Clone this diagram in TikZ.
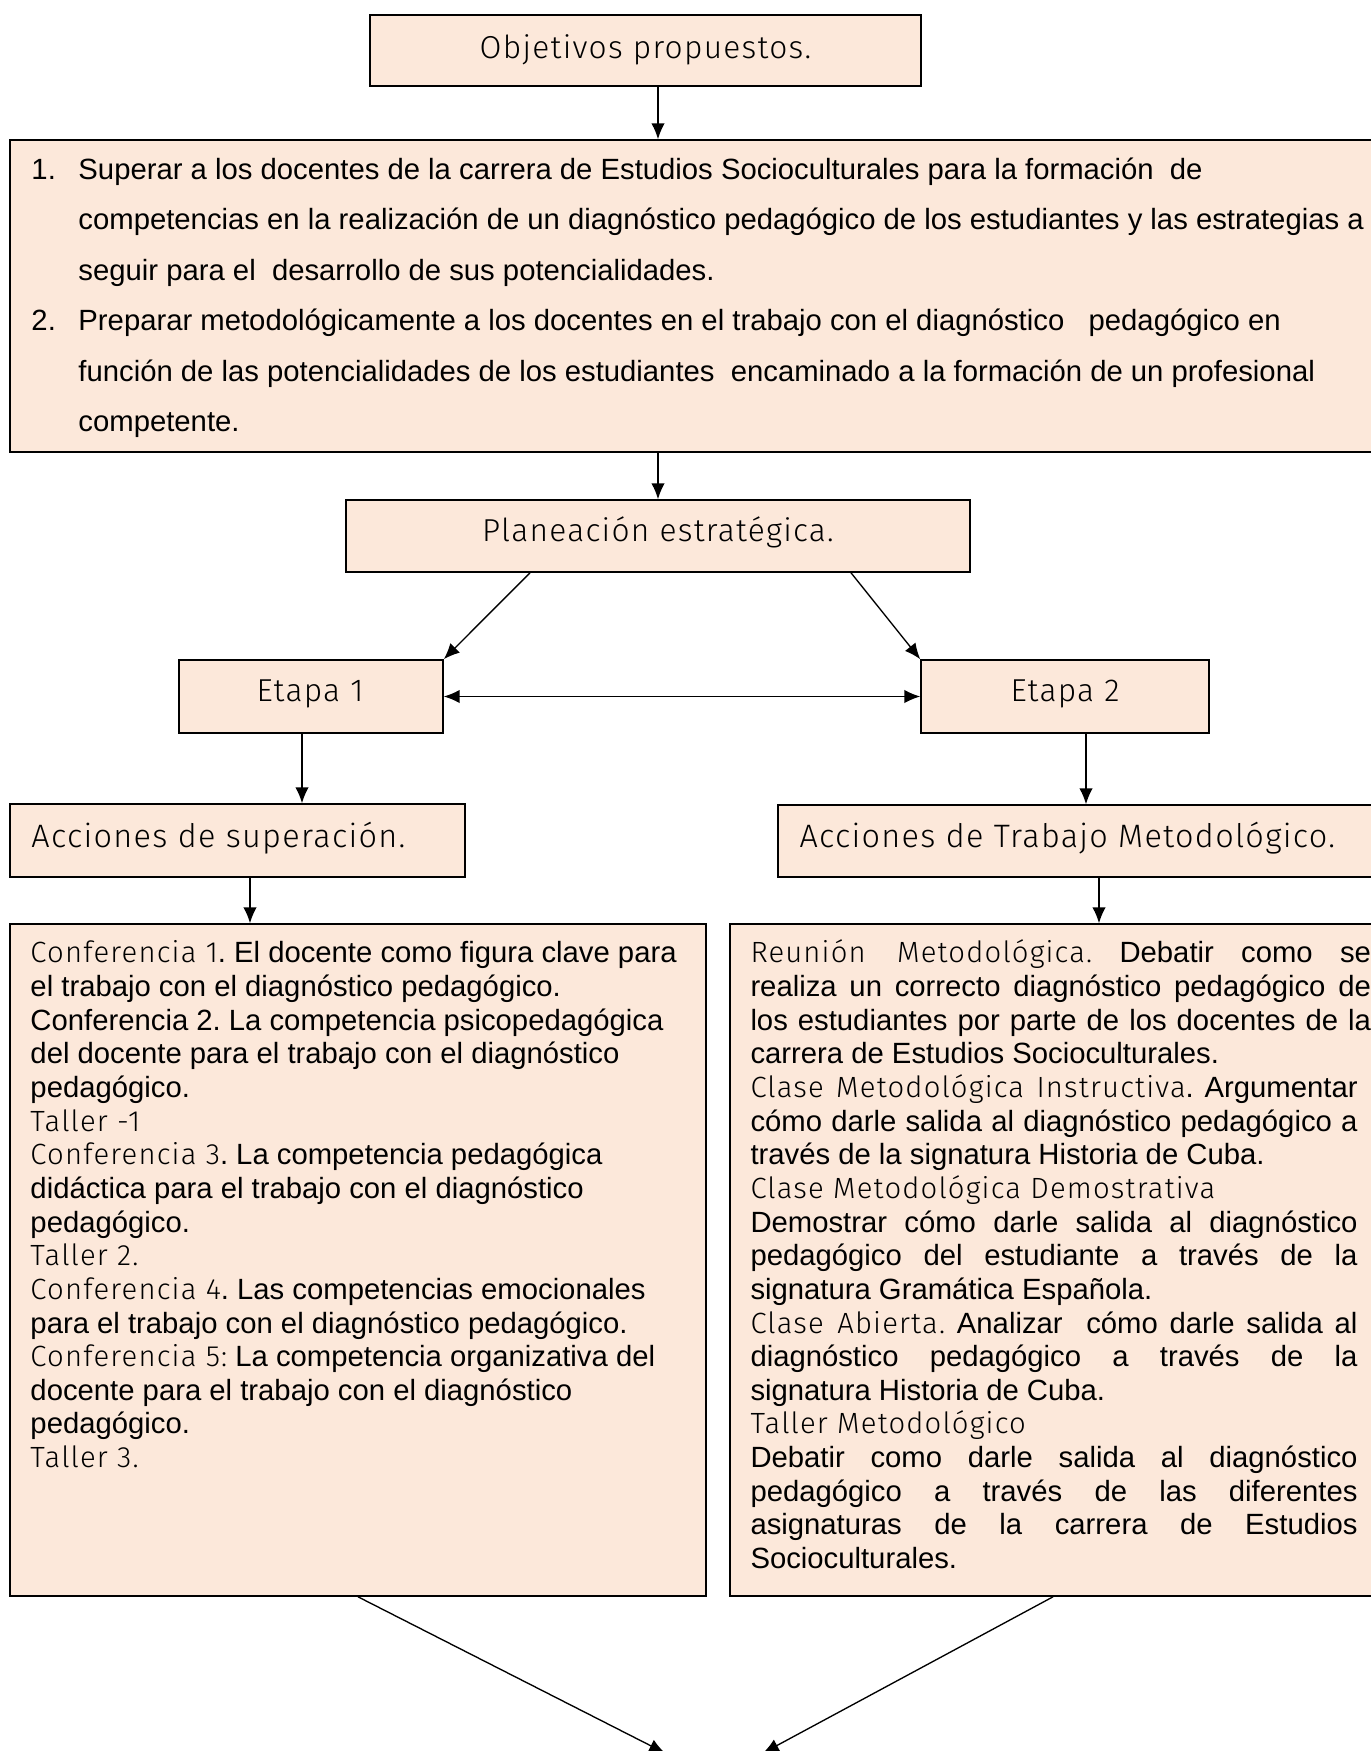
\documentclass[tikz,border=0pt]{standalone}
\usepackage{fontspec}
\setmainfont{Liberation Sans}
\newfontfamily\lt{Fira Sans Light}[LetterSpace=4]
\usetikzlibrary{arrows.meta,fit,shadows}
\definecolor{peach}{HTML}{FCE8DA}
\setlength{\parindent}{0pt}
\frenchspacing
\tikzset{
  box/.style={draw=black, line width=0.65pt, fill=peach, inner sep=0pt,
    drop shadow={shadow xshift=0.45pt, shadow yshift=-0.55pt, fill=black!75, opacity=1}},
  arr/.style={line width=0.55pt, -{Latex[length=6.5pt,width=5.5pt]}},
  darr/.style={line width=0.55pt, {Latex[length=6.5pt,width=5.5pt]}-{Latex[length=6.5pt,width=5.5pt]}},
  body/.style={inner sep=0pt, anchor=north west, font=\fontsize{12}{13.8}\selectfont\frenchspacing},
  head/.style={inner sep=0pt, font=\lt\fontsize{13}{15}\selectfont},
  headb/.style={inner sep=0pt, font=\lt\fontsize{13.3}{16}\selectfont},
}
\newcommand{\lite}[1]{{\lt #1}}
\begin{document}
\begin{tikzpicture}[x=0.41pt,y=-0.41pt]
\useasboundingbox (0,0) rectangle (1371,1751);
\clip (0,0) rectangle (1371,1751);
% boxes
\node[box, fit={(370,15) (921,86)}] (obj) {};
\node[box, fit={(10,140) (1395,452)}] (goals) {};
\node[box, fit={(346,500) (970,572)}] (plan) {};
\node[box, fit={(179,660) (443,733)}] (e1) {};
\node[box, fit={(921,660) (1209,733)}] (e2) {};
\node[box, fit={(10,804) (465,877)}] (as) {};
\node[box, fit={(778,805) (1395,877)}] (atm) {};
\node[box, fit={(10,924) (706,1596)}] (lb) {};
\node[box, fit={(730,924) (1395,1596)}] (rb) {};
% texts
\node[head] (tobj) at (645.5,49.5) {Objetivos propuestos.};
\node[head] (tplan) at (658,532.5) {Planeación estratégica.};
\node[head] (te1) at (310,694) {Etapa 1};
\node[head] (te2) at (1065,694) {Etapa 2};
\node[headb, anchor=west] (tas) at (31,838) {Acciones de superación.};
\node[headb, anchor=west] (tatm) at (799,838) {Acciones de Trabajo Metodológico.};
\node[body, align=left, font=\fontsize{12}{20.7}\selectfont\frenchspacing] (tgoals) at (31,143.3) {%
\strut\makebox[19.27pt][l]{1.}Superar a los docentes de la carrera de Estudios Socioculturales para la formación\ \ de\\
\hspace*{19.27pt}competencias en la realización de un diagnóstico pedagógico de los estudiantes y las estrategias a\\
\hspace*{19.27pt}seguir para el\ \ desarrollo de sus potencialidades.\\
\makebox[19.27pt][l]{2.}Preparar metodológicamente a los docentes en el trabajo con el diagnóstico\ \ \ pedagógico en\\
\hspace*{19.27pt}función de las potencialidades de los estudiantes\ \ encaminado a la formación de un profesional\\
\hspace*{19.27pt}competente.};
\node[body, align=left] (tlb) at (30,938.7) {%
\strut\lite{Conferencia 1}. El docente como figura clave para\\
el trabajo con el diagnóstico pedagógico.\\
Conferencia 2. La competencia psicopedagógica\\
del docente para el trabajo con el diagnóstico\\
pedagógico.\\
\lite{Taller -1}\\
\lite{Conferencia 3}. La competencia pedagógica\\
didáctica para el trabajo con el diagnóstico\\
pedagógico.\\
\lite{Taller 2.}\\
\lite{Conferencia 4}. Las competencias emocionales\\
para el trabajo con el diagnóstico pedagógico.\\
\lite{Conferencia 5:} La competencia organizativa del\\
docente para el trabajo con el diagnóstico\\
pedagógico.\\
\lite{Taller 3.}};
\node[body, text width=248.9pt, align=justify] (trb) at (750,938.7) {%
\begingroup\rightskip=-5.5pt\strut\lite{Reunión Metodológica.} Debatir como se\linebreak
realiza un correcto diagnóstico pedagógico de\linebreak
los estudiantes por parte de los docentes de la\linebreak
carrera de Estudios Socioculturales.\par\endgroup
\lite{Clase Metodológica Instructiva}. Argumentar\linebreak
cómo darle salida al diagnóstico pedagógico a\linebreak
través de la signatura Historia de Cuba.\par
\lite{Clase Metodológica Demostrativa}\par
Demostrar cómo darle salida al diagnóstico\linebreak
pedagógico del estudiante a través de la\linebreak
signatura Gramática Española.\par
\lite{Clase Abierta.} Analizar\ \ cómo darle salida al\linebreak
diagnóstico pedagógico a través de la\linebreak
signatura Historia de Cuba.\par
\lite{Taller Metodológico}\par
Debatir como darle salida al diagnóstico\linebreak
pedagógico a través de las diferentes\linebreak
asignaturas de la carrera de Estudios\linebreak
Socioculturales.\par};
% connectors
\coordinate (x1) at (658,0);
\coordinate (x2) at (302,0);
\coordinate (x3) at (1086,0);
\coordinate (x4) at (250,0);
\coordinate (x5) at (1099,0);
\coordinate (p1) at (530,0);
\coordinate (p2) at (851,0);
\coordinate (l1) at (358,0);
\coordinate (r1) at (1053,0);
\coordinate (b1) at (665,1753);
\coordinate (b2) at (763,1753);
\draw[arr] (obj.south -| x1) -- (goals.north -| x1);
\draw[arr] (goals.south -| x1) -- (plan.north -| x1);
\draw[arr] (plan.south -| p1) -- (e1.north east);
\draw[arr] (plan.south -| p2) -- (e2.north west);
\draw[darr] (e1.east) -- (e2.west);
\draw[arr] (e1.south -| x2) -- (as.north -| x2);
\draw[arr] (e2.south -| x3) -- (atm.north -| x3);
\draw[arr] (as.south -| x4) -- (lb.north -| x4);
\draw[arr] (atm.south -| x5) -- (rb.north -| x5);
\draw[arr] (lb.south -| l1) -- (b1);
\draw[arr] (rb.south -| r1) -- (b2);
\end{tikzpicture}
\end{document}
